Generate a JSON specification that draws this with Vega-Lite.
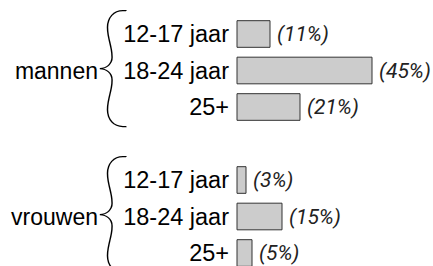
{
  "$schema": "https://vega.github.io/schema/vega-lite/v6.json",
  "width": 433,
  "height": 266,
  "autosize": "none",
  "padding": 0,
  "background": "white",
  "config": {"view": {"stroke": null}},
  "datasets": {
    "bars": [
      {"row": "m1", "group": "mannen", "age": "12-17 jaar", "pct": 11, "label": "(11%)"},
      {"row": "m2", "group": "mannen", "age": "18-24 jaar", "pct": 45, "label": "(45%)"},
      {"row": "m3", "group": "mannen", "age": "25+", "pct": 21, "label": "(21%)"},
      {"row": "v1", "group": "vrouwen", "age": "12-17 jaar", "pct": 3, "label": "(3%)"},
      {"row": "v2", "group": "vrouwen", "age": "18-24 jaar", "pct": 15, "label": "(15%)"},
      {"row": "v3", "group": "vrouwen", "age": "25+", "pct": 5, "label": "(5%)"}
    ],
    "groups": [
      {"row": "m2", "group": "mannen"},
      {"row": "v2", "group": "vrouwen"}
    ]
  },
  "data": {"name": "bars"},
  "encoding": {
    "y": {
      "field": "row",
      "type": "nominal",
      "axis": null,
      "scale": {
        "type": "band",
        "domain": ["m1", "m2", "m3", "gap", "v1", "v2", "v3"],
        "range": [15.75, 271.25],
        "paddingInner": 0.27,
        "paddingOuter": 0.135
      }
    }
  },
  "layer": [
    {
      "mark": {"type": "bar", "fill": "#cccccc", "stroke": "#333333", "strokeWidth": 1},
      "encoding": {
        "x": {"field": "pct", "type": "quantitative", "axis": null, "scale": {"domain": [-79, 65.333], "range": [0, 433], "zero": false, "nice": false}}
      }
    },
    {
      "mark": {"type": "text", "align": "left", "baseline": "middle", "dx": 7, "dy": 1, "font": "Roboto", "fontStyle": "italic", "fontSize": 21, "color": "#222222"},
      "encoding": {
        "x": {"field": "pct", "type": "quantitative"},
        "text": {"field": "label", "type": "nominal"}
      }
    },
    {
      "mark": {"type": "text", "align": "right", "baseline": "middle", "dx": -8, "dy": 1, "font": "Liberation Sans", "fontSize": 23.5, "color": "#000000"},
      "encoding": {
        "x": {"datum": 0, "type": "quantitative"},
        "text": {"field": "age", "type": "nominal"}
      }
    },
    {
      "data": {"name": "groups"},
      "mark": {"type": "text", "align": "right", "baseline": "middle", "dx": -139, "dy": 1, "font": "Liberation Sans", "fontSize": 23, "color": "#000000"},
      "encoding": {
        "x": {"datum": 0, "type": "quantitative"},
        "text": {"field": "group", "type": "nominal"}
      }
    },
    {
      "data": {"name": "groups"},
      "mark": {"type": "text", "align": "center", "baseline": "middle", "dx": -124, "dy": 0, "font": "Lato", "fontWeight": 100, "fontSize": 134, "color": "#000000", "text": "{"},
      "encoding": {
        "x": {"datum": 0, "type": "quantitative"}
      }
    }
  ]
}
